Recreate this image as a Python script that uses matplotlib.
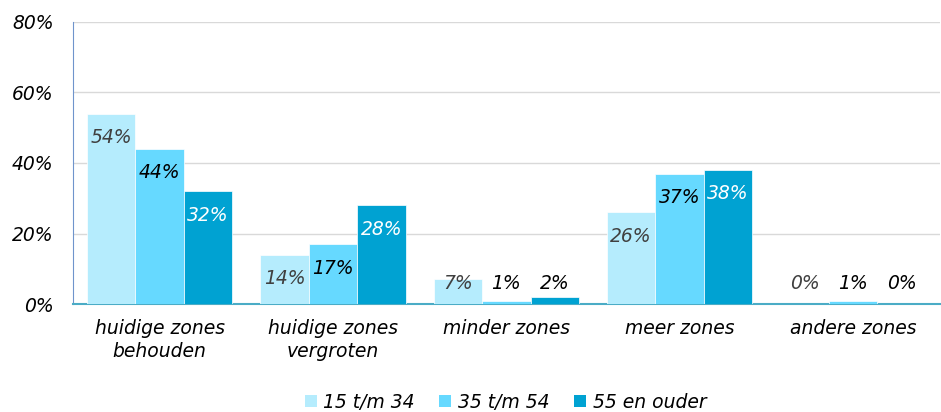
import matplotlib
matplotlib.use("Agg")
import matplotlib.pyplot as plt
import numpy as np
from matplotlib.patches import Patch

categories = ["huidige zones\nbehouden", "huidige zones\nvergroten", "minder zones",
              "meer zones", "andere zones"]
series_names = ["15 t/m 34", "35 t/m 54", "55 en ouder"]
s1 = [54, 14, 7, 26, 0]
s2 = [44, 17, 1, 37, 1]
s3 = [32, 28, 2, 38, 0]
yticks = [0, 20, 40, 60, 80]

colors = ["#B5ECFD", "#66D9FF", "#00A2D2"]
label_colors_inside = ["#404040", "#000000", "#FFFFFF"]
label_colors_outside = ["#404040", "#000000", "#000000"]

plt.rcParams['font.family'] = ['DejaVu Sans']
fig = plt.figure(figsize=(9.41, 4.12), dpi=100)
ax = fig.add_axes([0.0776, 0.262, 0.921, 0.685])

FS = 13.5
x = np.arange(len(categories))
w = 0.28
for i, vals in enumerate([s1, s2, s3]):
    xs = x + (i - 1) * w
    ax.bar(xs, vals, width=w, color=colors[i], edgecolor="white", linewidth=0.5, zorder=3)
    for xi, v in zip(xs, vals):
        ly = v - 6.8
        inside = ly >= 5.9
        if not inside:
            ly = 5.9
        col = label_colors_inside[i] if inside else label_colors_outside[i]
        ax.text(xi, ly, f"{v}%", ha="center", va="center", fontsize=FS,
                style="italic", color=col, zorder=4)

ax.set_xlim(-0.5, len(categories) - 0.5)
ax.set_ylim(0, 80)
ax.set_yticks(yticks)
ax.set_yticklabels([f"{t}%" for t in yticks], fontsize=FS, style="italic")
ax.set_xticks(x)
ax.set_xticklabels(categories, fontsize=FS, style="italic", linespacing=1.25)
ax.tick_params(axis="both", length=0)
ax.tick_params(axis="y", pad=14)
ax.tick_params(axis="x", pad=11)
ax.grid(axis="y", color="#D9D9D9", linewidth=1, zorder=0)
for s in ["top", "right"]:
    ax.spines[s].set_visible(False)
ax.spines["left"].set_color("#6F94CC")
ax.spines["bottom"].set_color("#4BACC6")
ax.spines["bottom"].set_linewidth(1.5)

handles = [Patch(facecolor=c, edgecolor="none") for c in colors]
fig.legend(handles, series_names, loc="lower center", bbox_to_anchor=(0.537, -0.04),
           ncol=3, frameon=False, prop={"size": FS, "style": "italic"},
           handlelength=0.65, handleheight=0.65, handletextpad=0.35, columnspacing=1.3)

fig.savefig("out.png", dpi=100)
